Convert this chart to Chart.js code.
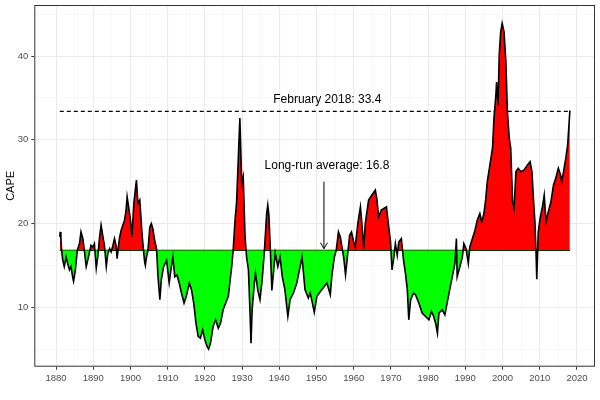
<!DOCTYPE html>
<html>
<head>
<meta charset="utf-8">
<script src="https://cdn.jsdelivr.net/npm/chart.js@4/dist/chart.umd.min.js"></script>
<style>
  html, body { margin: 0; padding: 0; background: #fff; }
  #wrap { width: 600px; height: 400px; position: relative; }
</style>
</head>
<body>
<div id="wrap"><canvas id="capeChart"></canvas></div>
<script>
// CAPE readings (decimal year, value)
const years = [
  1881.0, 1881.1, 1881.3, 1881.5, 1881.8, 1882.2, 1882.7, 1883.1, 1883.6, 1884.0,
  1884.5, 1884.7, 1885.2, 1885.7, 1886.3, 1886.7, 1887.2, 1887.6, 1888.1, 1888.5,
  1889.0, 1889.4, 1889.9, 1890.3, 1890.8, 1891.2, 1891.7, 1892.1, 1892.6, 1893.0,
  1893.5, 1893.9, 1894.4, 1894.8, 1895.3, 1895.7, 1896.2, 1896.4, 1896.8, 1897.1,
  1897.5, 1898.4, 1898.8, 1899.1, 1899.5, 1900.0, 1900.4, 1900.9, 1901.3, 1901.6,
  1902.0, 1902.5, 1903.1, 1903.5, 1903.8, 1904.0, 1904.3, 1904.7, 1905.2, 1905.6,
  1906.0, 1906.5, 1907.0, 1907.4, 1907.9, 1908.3, 1908.9, 1909.7, 1910.4, 1911.0,
  1911.4, 1911.9, 1912.5, 1913.1, 1913.7, 1914.4, 1915.0, 1915.8, 1916.4, 1917.0,
  1917.6, 1918.2, 1918.8, 1919.4, 1920.0, 1920.6, 1921.0, 1921.5, 1922.2, 1922.9,
  1923.6, 1924.2, 1924.9, 1925.6, 1926.3, 1926.7, 1927.2, 1927.6, 1928.1, 1928.5,
  1929.0, 1929.4, 1929.9, 1930.3, 1930.8, 1931.2, 1931.7, 1932.1, 1932.4, 1932.7,
  1933.3, 1933.6, 1934.2, 1934.8, 1935.4, 1936.0, 1936.6, 1936.9, 1937.2, 1937.6,
  1938.0, 1938.9, 1939.6, 1940.2, 1940.8, 1941.5, 1942.3, 1942.9, 1943.8, 1944.7,
  1946.1, 1946.9, 1947.8, 1948.3, 1948.8, 1949.4, 1950.1, 1951.4, 1952.8, 1953.7,
  1954.1, 1954.8, 1955.3, 1955.9, 1956.4, 1956.9, 1957.3, 1957.8, 1958.3, 1958.9,
  1959.4, 1960.0, 1960.4, 1961.1, 1961.8, 1962.2, 1962.7, 1963.1, 1964.0, 1964.9,
  1965.8, 1966.2, 1966.7, 1967.4, 1968.1, 1968.8, 1969.4, 1969.9, 1970.3, 1970.8,
  1971.2, 1971.7, 1972.1, 1972.8, 1973.4, 1973.9, 1974.4, 1974.8, 1975.3, 1976.1,
  1976.6, 1977.5, 1978.4, 1979.3, 1980.2, 1980.9, 1981.5, 1982.0, 1982.5, 1982.9,
  1983.8, 1984.5, 1985.1, 1985.8, 1986.5, 1987.2, 1987.6, 1987.8, 1988.3, 1989.2,
  1989.6, 1990.2, 1990.8, 1991.2, 1991.9, 1992.6, 1993.2, 1993.9, 1994.4, 1995.0,
  1995.5, 1995.9, 1996.6, 1997.3, 1997.7, 1998.2, 1998.4, 1998.8, 1999.1, 1999.5,
  1999.9, 2000.4, 2000.9, 2001.3, 2001.8, 2002.2, 2002.7, 2003.1, 2003.6, 2004.2,
  2004.9, 2005.8, 2006.7, 2007.4, 2007.9, 2008.3, 2008.7, 2009.0, 2009.2, 2009.6,
  2010.1, 2010.8, 2011.2, 2011.7, 2012.3, 2013.0, 2013.7, 2014.3, 2015.0, 2015.6,
  2015.9, 2016.4, 2017.0, 2017.5, 2017.8, 2018.1
];
const cape = [
  18.4, 19.0, 18.2, 16.8, 15.6, 14.85, 16.0, 15.25, 14.45, 14.85,
  13.5, 13.1, 14.45, 16.8, 17.6, 19.0, 18.2, 16.8, 14.85, 15.6,
  16.6, 17.4, 17.2, 17.6, 14.65, 16.0, 18.4, 19.8, 18.4, 17.4,
  14.85, 16.4, 17.0, 16.6, 17.4, 18.2, 17.2, 15.8, 17.4, 18.4,
  19.2, 20.4, 21.5, 23.2, 22.0, 20.4, 18.4, 22.4, 24.0, 25.2,
  22.4, 22.8, 18.8, 16.8, 15.45, 15.0, 16.0, 16.8, 19.6, 20.0,
  19.4, 18.0, 17.0, 13.65, 10.9, 13.3, 14.85, 15.6, 12.9, 14.85,
  16.0, 13.65, 13.85, 12.9, 11.7, 10.5, 11.3, 12.9, 12.1, 10.5,
  8.1, 6.5, 6.3, 7.3, 6.1, 5.3, 5.0, 5.7, 7.7, 8.5,
  7.5, 8.1, 9.7, 10.5, 11.3, 12.9, 14.85, 16.8, 20.4, 22.4,
  28.0, 32.6, 24.8, 25.6, 18.4, 16.0, 14.45, 9.7, 5.7, 9.7,
  12.9, 14.05, 12.1, 10.9, 13.3, 16.8, 21.2, 22.2, 21.0, 16.8,
  12.0, 16.45, 14.85, 16.0, 13.65, 12.1, 8.9, 10.9, 11.7, 12.9,
  16.0, 12.1, 11.1, 11.7, 10.7, 9.4, 11.3, 12.1, 12.9, 11.5,
  13.65, 16.0, 16.8, 19.0, 18.4, 17.0, 16.0, 13.85, 16.0, 18.6,
  19.0, 17.8, 17.2, 20.0, 22.0, 20.0, 17.0, 20.0, 22.8, 23.4,
  24.0, 23.0, 20.8, 21.6, 21.8, 22.0, 19.6, 17.8, 14.45, 16.0,
  17.6, 16.2, 17.8, 18.2, 15.6, 14.05, 12.1, 8.5, 10.9, 11.7,
  11.5, 10.5, 9.3, 8.9, 8.5, 9.5, 8.9, 8.1, 6.9, 9.3,
  9.7, 9.1, 10.5, 12.1, 13.65, 15.25, 18.2, 13.65, 14.45, 16.0,
  17.6, 17.0, 15.25, 17.2, 18.2, 19.2, 20.4, 21.2, 20.2, 21.2,
  23.0, 25.0, 27.0, 29.0, 32.6, 35.3, 36.9, 34.1, 40.1, 42.9,
  43.9, 42.9, 39.3, 33.4, 30.2, 29.0, 22.6, 21.8, 26.2, 26.6,
  26.2, 26.4, 27.0, 27.4, 26.2, 23.0, 20.2, 16.6, 13.35, 19.0,
  20.6, 22.2, 23.4, 20.2, 21.4, 22.6, 24.6, 25.4, 26.6, 25.8,
  25.0, 26.2, 27.8, 29.4, 31.4, 33.5
];

const longRunAvg = 16.8;
const latestValue = 33.4;
const firstYear = 1881.0;
const lastYear = 2018.1;

const xTickLabels = [1880, 1890, 1900, 1910, 1920, 1930, 1940, 1950, 1960, 1970, 1980, 1990, 2000, 2010, 2020];
const yTickLabels = [10, 20, 30, 40];
const xGridLines = [1875, 1880, 1885, 1890, 1895, 1900, 1905, 1910, 1915, 1920, 1925, 1930, 1935, 1940, 1945, 1950, 1955, 1960, 1965, 1970, 1975, 1980, 1985, 1990, 1995, 2000, 2005, 2010, 2015, 2020];
const yGridLines = [5, 10, 15, 20, 25, 30, 35, 40, 45];

const FONT = "'Liberation Sans', Arial, sans-serif";

const capePoints = years.map((yr, i) => ({ x: yr, y: cape[i] }));

const isMajorX = v => xTickLabels.includes(v);
const isMajorY = v => yTickLabels.includes(v);

// annotations, the panel border and the axis title
const extrasPlugin = {
  id: "extras",
  afterDatasetsDraw(chart) {
    const ctx = chart.ctx;
    const xs = chart.scales.x;
    const ys = chart.scales.y;
    ctx.save();
    ctx.fillStyle = "#000";
    ctx.font = "12px " + FONT;
    ctx.textAlign = "center";
    ctx.textBaseline = "middle";
    ctx.fillText("February 2018: " + latestValue, xs.getPixelForValue(1952.9), ys.getPixelForValue(34.75));
    ctx.fillText("Long-run average: " + longRunAvg, xs.getPixelForValue(1952.8), ys.getPixelForValue(26.9));

    // arrow down to the average line
    const ax = xs.getPixelForValue(1952);
    const ay0 = ys.getPixelForValue(25.0);
    const ay1 = ys.getPixelForValue(17.0);
    ctx.strokeStyle = "#000";
    ctx.lineWidth = 1;
    ctx.beginPath();
    ctx.moveTo(ax, ay0);
    ctx.lineTo(ax, ay1);
    ctx.moveTo(ax - 3.5, ay1 - 6);
    ctx.lineTo(ax, ay1);
    ctx.lineTo(ax + 3.5, ay1 - 6);
    ctx.stroke();

    // panel border
    const a = chart.chartArea;
    ctx.strokeStyle = "#333333";
    ctx.lineWidth = 1;
    ctx.strokeRect(a.left + 0.5, a.top + 0.5, a.right - a.left - 1, a.bottom - a.top - 1);

    // y title
    ctx.translate(11, (a.top + a.bottom) / 2);
    ctx.rotate(-Math.PI / 2);
    ctx.font = "11px " + FONT;
    ctx.fillText("CAPE", 0, 0);
    ctx.restore();
  }
};

const ctx = document.getElementById("capeChart").getContext("2d");
const chart = new Chart(ctx, {
  type: "line",
  data: {
    datasets: [
      {
        label: "CAPE",
        data: capePoints,
        borderColor: "#000000",
        borderWidth: 1.6,
        pointRadius: 0,
        tension: 0,
        fill: { target: { value: longRunAvg }, above: "#FF0000", below: "#00FF00" }
      },
      {
        label: "Average",
        data: [{ x: firstYear, y: longRunAvg }, { x: lastYear, y: longRunAvg }],
        borderColor: "#000000",
        borderWidth: 1.2,
        pointRadius: 0,
        fill: false
      },
      {
        label: "Latest",
        data: [{ x: firstYear, y: latestValue }, { x: lastYear, y: latestValue }],
        borderColor: "#000000",
        borderWidth: 1.1,
        borderDash: [4, 3],
        pointRadius: 0,
        fill: false
      }
    ]
  },
  options: {
    responsive: true,
    maintainAspectRatio: false,
    animation: false,
    layout: { padding: { top: 5, right: 5, left: 0, bottom: 0 } },
    plugins: {
      legend: { display: false },
      tooltip: { enabled: false }
    },
    scales: {
      x: {
        type: "linear",
        min: 1874.15,
        max: 2024.85,
        afterBuildTicks: axis => { axis.ticks = xGridLines.map(v => ({ value: v })); },
        afterFit: axis => { axis.height = 33.3; axis.paddingLeft = 0; axis.paddingRight = 0; },
        ticks: {
          autoSkip: false,
          maxRotation: 0,
          padding: 3,
          color: "#4D4D4D",
          font: { family: FONT, size: 9.5 },
          callback: v => (isMajorX(v) ? String(v) : "")
        },
        grid: {
          color: ctx => (isMajorX(ctx.tick.value) ? "#EBEBEB" : "#F3F3F3"),
          lineWidth: ctx => (isMajorX(ctx.tick.value) ? 1.1 : 0.6),
          tickColor: ctx => (isMajorX(ctx.tick.value) ? "#333333" : "rgba(0,0,0,0)"),
          tickLength: 3,
          tickWidth: 1
        },
        border: { display: false }
      },
      y: {
        type: "linear",
        min: 2.9,
        max: 46.1,
        afterBuildTicks: axis => { axis.ticks = yGridLines.map(v => ({ value: v })); },
        afterFit: axis => { axis.width = 34.3; axis.paddingTop = 0; axis.paddingBottom = 0; },
        ticks: {
          autoSkip: false,
          padding: 3,
          color: "#4D4D4D",
          font: { family: FONT, size: 9.5 },
          callback: v => (isMajorY(v) ? String(v) : "")
        },
        grid: {
          color: ctx => (isMajorY(ctx.tick.value) ? "#EBEBEB" : "#F3F3F3"),
          lineWidth: ctx => (isMajorY(ctx.tick.value) ? 1.1 : 0.6),
          tickColor: ctx => (isMajorY(ctx.tick.value) ? "#333333" : "rgba(0,0,0,0)"),
          tickLength: 3,
          tickWidth: 1
        },
        border: { display: false }
      }
    }
  },
  plugins: [extrasPlugin]
});
</script>
</body>
</html>
